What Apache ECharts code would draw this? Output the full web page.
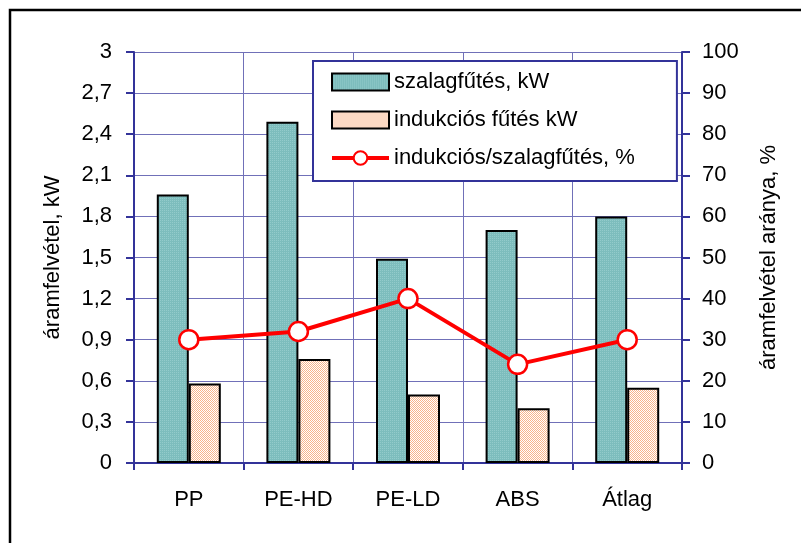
<!DOCTYPE html>
<html>
<head>
<meta charset="utf-8">
<script src="https://cdn.jsdelivr.net/npm/echarts@6/dist/echarts.min.js"></script>
<style>
html,body{margin:0;padding:0;background:#fff;}
#chart{width:801px;height:543px;}
</style>
</head>
<body>
<div id="chart"></div>
<script>
const categories = ['PP', 'PE-HD', 'PE-LD', 'ABS', 'Átlag'];
const szalagValues = [1.96, 2.49, 1.49, 1.70, 1.80];
const indukciosValues = [0.58, 0.76, 0.50, 0.40, 0.55];
const aranyValues = [30, 32, 40, 24, 30];
const seriesNames = ['szalagfűtés, kW', 'indukciós fűtés kW', 'indukciós/szalagfűtés, %'];
const leftAxisName = 'áramfelvétel, kW';
const rightAxisName = 'áramfelvétel aránya, %';

function makePattern(bg, fg, cells) {
  const c = document.createElement('canvas');
  c.width = 2; c.height = 2;
  const ctx = c.getContext('2d');
  ctx.fillStyle = bg; ctx.fillRect(0, 0, 2, 2);
  ctx.fillStyle = fg;
  cells.forEach(p => ctx.fillRect(p[0], p[1], 1, 1));
  return { image: c, repeat: 'repeat' };
}
const tealPattern = makePattern('#7dbdbd', '#93cbcb', [[0, 0]]);
const orangePattern = makePattern('#ffffff', '#f9b48a', [[0, 0], [1, 1]]);

const FONT = '"Liberation Sans", Arial, sans-serif';
const NAVY = '#333399';
const GRID = '#7070b8';

const chart = echarts.init(document.getElementById('chart'), null, { renderer: 'canvas' });
chart.setOption({
  animation: false,
  backgroundColor: '#ffffff',
  textStyle: { fontFamily: FONT },
  graphic: [{
    type: 'rect',
    shape: { x: 10, y: 10, width: 900, height: 600 },
    style: { fill: 'none', stroke: '#000', lineWidth: 2.5 },
    silent: true
  }],
  grid: { left: 134, right: 119, top: 52, bottom: 80 },
  legend: {
    orient: 'vertical',
    left: 313,
    top: 61,
    padding: [10, 42, 12, 17],
    itemGap: 16,
    itemWidth: 57,
    itemHeight: 17,
    backgroundColor: '#fff',
    borderColor: NAVY,
    borderWidth: 2,
    borderRadius: 0,
    textStyle: { fontFamily: FONT, fontSize: 22, color: '#000' },
    data: [
      { name: seriesNames[0], icon: 'rect' },
      { name: seriesNames[1], icon: 'rect' },
      { name: seriesNames[2], lineStyle: { width: 4 } }
    ]
  },
  xAxis: {
    type: 'category',
    data: categories,
    boundaryGap: true,
    axisLine: { show: true, lineStyle: { color: NAVY, width: 2 } },
    axisTick: { show: true, length: 7, lineStyle: { color: NAVY, width: 2 } },
    axisLabel: { color: '#000', fontSize: 22, fontFamily: FONT, margin: 26 },
    splitLine: { show: true, lineStyle: { color: GRID, width: 1 } }
  },
  yAxis: [{
    type: 'value',
    min: 0, max: 3, interval: 0.3,
    name: leftAxisName,
    nameLocation: 'middle',
    nameGap: 70,
    nameRotate: 90,
    nameTextStyle: { color: '#000', fontSize: 22, fontFamily: FONT },
    axisLine: { show: true, lineStyle: { color: NAVY, width: 2 } },
    axisTick: { show: true, length: 8, lineStyle: { color: NAVY, width: 2 } },
    axisLabel: {
      color: '#000', fontSize: 22, fontFamily: FONT, margin: 22,
      formatter: v => String(Math.round(v * 10) / 10).replace('.', ',')
    },
    splitLine: { show: true, lineStyle: { color: GRID, width: 1 } }
  }, {
    type: 'value',
    min: 0, max: 100, interval: 10,
    name: rightAxisName,
    nameLocation: 'middle',
    nameGap: 76,
    nameRotate: 90,
    nameTextStyle: { color: '#000', fontSize: 22, fontFamily: FONT },
    position: 'right',
    axisLine: { show: true, lineStyle: { color: NAVY, width: 2 } },
    axisTick: { show: true, length: 8, lineStyle: { color: NAVY, width: 2 } },
    axisLabel: { color: '#000', fontSize: 22, fontFamily: FONT, margin: 20 },
    splitLine: { show: false }
  }],
  series: [{
    name: seriesNames[0],
    type: 'bar',
    data: szalagValues,
    barWidth: 32,
    barGap: '0%',
    itemStyle: { color: tealPattern, borderColor: '#000', borderWidth: 2 }
  }, {
    name: seriesNames[1],
    type: 'bar',
    data: indukciosValues,
    barWidth: 32,
    barGap: '0%',
    itemStyle: { color: orangePattern, borderColor: '#000', borderWidth: 2 }
  }, {
    name: seriesNames[2],
    type: 'line',
    yAxisIndex: 1,
    data: aranyValues,
    symbol: 'circle',
    symbolSize: 19,
    lineStyle: { color: '#ff0000', width: 4 },
    itemStyle: { color: '#ffffff', borderColor: '#ff0000', borderWidth: 2.5 },
    z: 5
  }]
});
</script>
</body>
</html>
